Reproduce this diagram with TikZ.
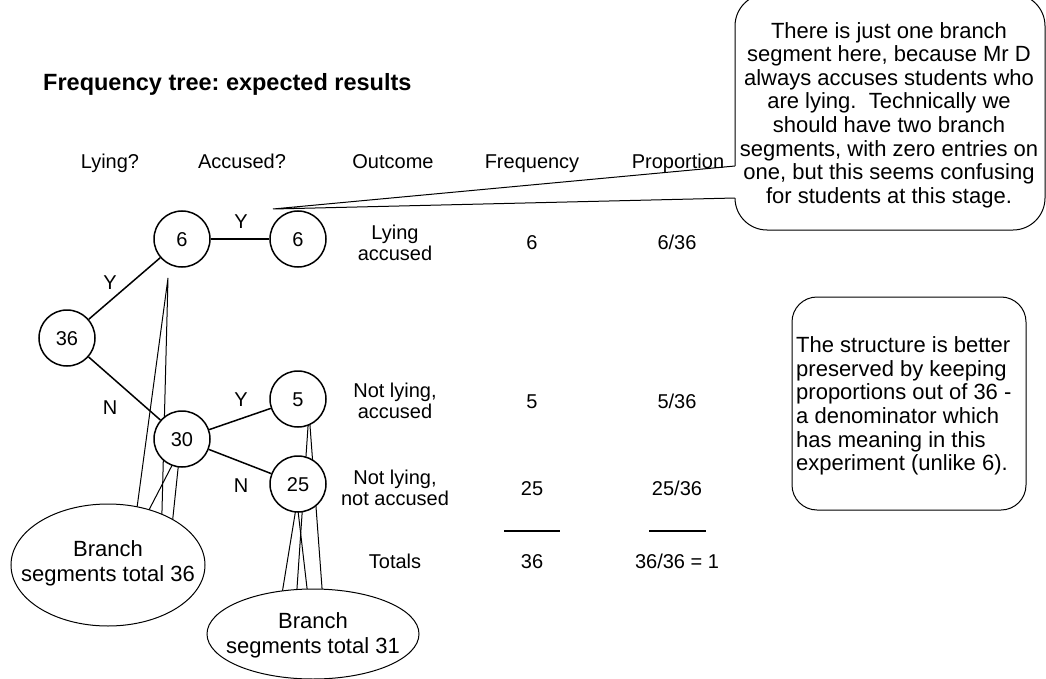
\documentclass[tikz,border=0pt]{standalone}
\usepackage{fontspec}
\setmainfont{Liberation Sans}
\usetikzlibrary{shapes.geometric}
\frenchspacing
\begin{document}
\begin{tikzpicture}[x=1pt,y=-1pt,
  num/.style={circle, draw, line width=1.5pt, minimum size=56pt, inner sep=0pt, fill=white, font=\fontsize{20}{22}\selectfont, text height=14.3pt, text depth=0pt},
  edge/.style={line width=1.5pt},
  txt/.style={font=\fontsize{20}{21}\selectfont, align=center, inner sep=0pt},
  one/.style={txt, text height=14.3pt, text depth=0pt},
  note/.style={font=\fontsize{22}{23.6}\selectfont, align=center, inner sep=0pt},
  tail/.style={line width=1pt},
  bubble/.style={draw, line width=1pt, fill=white},
  rulebar/.style={line width=2pt}]
\useasboundingbox (0,0) rectangle (1046,679);

% big speech bubble
\node[bubble, rounded corners=32pt, minimum width=310pt, minimum height=236pt] (b1) at (890,112) {};
\coordinate (p) at (273,209);
\coordinate (pu) at (735,166);
\coordinate (pl) at (735,198);
\fill[white] (p) -- ([xshift=2pt]pu) -- ([xshift=2pt]pl) -- cycle;
\draw[tail] (pu) -- (p) -- (pl);
\node[note] (b1t) at (889,115) {There is just one branch\\segment here, because Mr D\\always accuses students who\\are lying.\ \ Technically we\\should have two branch\\segments, with zero entries on\\one, but this seems confusing\\for students at this stage.};

% second note box
\node[bubble, rounded corners=25pt, minimum width=234pt, minimum height=213pt] (b2) at (909,403.5) {};
\node[note, align=left, anchor=west] (b2t) at (796,406) {The structure is better\\preserved by keeping\\proportions out of 36 -\\a denominator which\\has meaning in this\\experiment (unlike 6).};

% title and headers
\node[font=\fontsize{23.5}{25}\selectfont\bfseries, anchor=west, inner sep=0pt, text height=17pt, text depth=0pt] (title) at (43,82) {Frequency tree: expected results};
\node[one] (h1) at (110,161) {Lying?};
\node[one] (h2) at (242,161) {Accused?};
\node[one] (h3) at (393,161) {Outcome};
\node[one] (h4) at (532,161) {Frequency};
\node[one] (h5) at (678,161) {Proportion};

% callout tails
\coordinate (t1) at (168,278);
\coordinate (t1a) at (134,530);
\coordinate (t1b) at (161.5,530);
\draw[tail] (t1a) -- (t1) -- (t1b);
\coordinate (t2) at (180,450);
\coordinate (t2a) at (138.6,530);
\coordinate (t2b) at (171.6,530);
\draw[tail] (t2a) -- (t2) -- (t2b);
\coordinate (t3) at (297,502);
\coordinate (t3a) at (281,600);
\coordinate (t3b) at (308.4,600);
\draw[tail] (t3a) -- (t3) -- (t3b);
\coordinate (t4) at (309,412);
\coordinate (t4a) at (296.2,600);
\coordinate (t4b) at (322.9,600);
\draw[tail] (t4a) -- (t4) -- (t4b);

% ellipses
\node[bubble, ellipse, minimum width=194pt, minimum height=122pt, inner sep=0pt] (e1) at (108,565) {};
\node[note, font=\fontsize{22}{25}\selectfont] (e1t) at (108,563) {Branch\\segments total 36};
\node[bubble, ellipse, minimum width=212pt, minimum height=90pt, inner sep=0pt] (e2) at (313,634) {};
\node[note, font=\fontsize{22}{25}\selectfont] (e2t) at (313,635) {Branch\\segments total 31};

% tree
\node[num] (n36) at (67,338) {36};
\node[num] (n6a) at (182,239) {6};
\node[num] (n6b) at (298,239) {6};
\node[num] (n30) at (182,439) {30};
\node[num] (n5) at (298,399) {5};
\node[num] (n25) at (298,484) {25};
\draw[edge] (n36) -- (n6a);
\draw[edge] (n6a) -- (n6b);
\draw[edge] (n36) -- (n30);
\draw[edge] (n30) -- (n5);
\draw[edge] (n30) -- (n25);
\node[one] (ly1) at (110,282) {Y};
\node[one] (ln1) at (110,407) {N};
\node[one] (ly2) at (241,221) {Y};
\node[one] (ly3) at (241,399) {Y};
\node[one] (ln3) at (241,485) {N};

% table
\node[txt] (o1) at (395,243) {Lying\\accused};
\node[one] (f1) at (532,242) {6};
\node[one] (q1) at (677,242) {6/36};
\node[txt] (o2) at (395,401) {Not lying,\\accused};
\node[one] (f2) at (532,401) {5};
\node[one] (q2) at (677,401) {5/36};
\node[txt] (o3) at (395,488) {Not lying,\\not accused};
\node[one] (f3) at (532,488) {25};
\node[one] (q3) at (677,488) {25/36};
\coordinate (fr1) at (504,531);
\coordinate (fr2) at (560,531);
\coordinate (pr1) at (649,531);
\coordinate (pr2) at (706,531);
\draw[rulebar] (fr1) -- (fr2);
\draw[rulebar] (pr1) -- (pr2);
\node[one] (tt) at (395,561) {Totals};
\node[one] (tf) at (532,561) {36};
\node[one] (tp) at (677,561) {36/36 = 1};
\end{tikzpicture}
\end{document}
